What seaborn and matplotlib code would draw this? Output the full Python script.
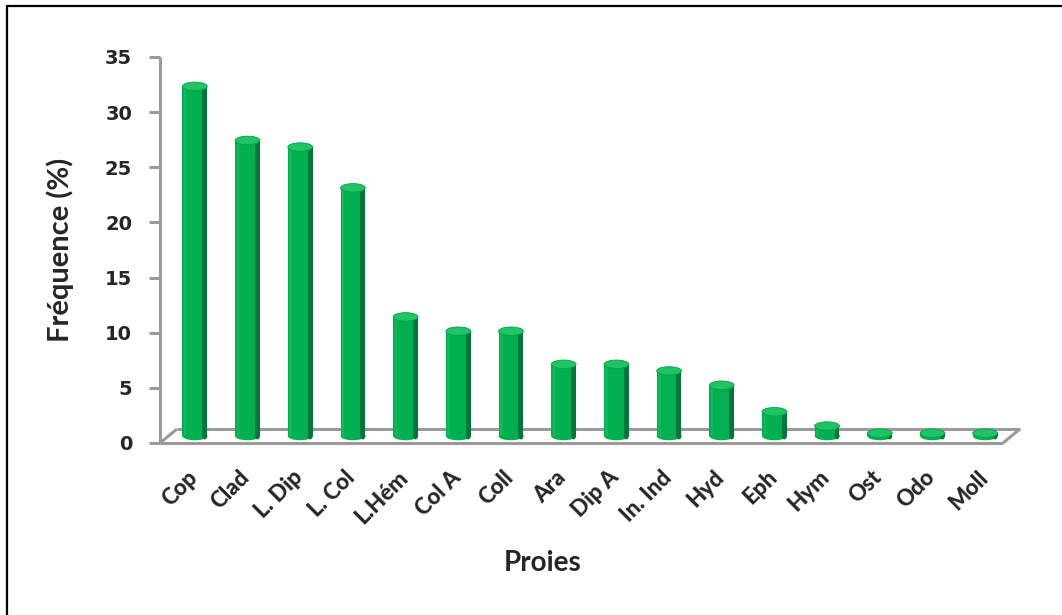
import numpy as np
import pandas as pd
import matplotlib
matplotlib.use("Agg")
import matplotlib.pyplot as plt
import matplotlib.transforms as mtransforms
from matplotlib.patches import Ellipse, Rectangle
from matplotlib.lines import Line2D
import seaborn as sns

# Prey categories and their frequency of occurrence (%)
categories = ["Cop", "Clad", "L. Dip", "L. Col", "L.Hém", "Col A", "Coll", "Ara",
              "Dip A", "In. Ind", "Hyd", "Eph", "Hym", "Ost", "Odo", "Moll"]
frequencies = [31.7, 26.8, 26.2, 22.5, 10.8, 9.5, 9.5, 6.5,
               6.5, 5.9, 4.6, 2.2, 0.9, 0.25, 0.25, 0.25]
y_ticks = [0, 5, 10, 15, 20, 25, 30, 35]

GREEN = "#00B050"
GREEN_DARK = "#00773A"
GREEN_LIGHT = "#1FC463"
AXIS_GREY = "#9A9A9A"

sns.set_theme(style="white")
plt.rcParams["font.family"] = ["DejaVu Sans"]

W, H, DPI = 1062, 615, 100
fig = plt.figure(figsize=(W / DPI, H / DPI), dpi=DPI)
fig.patch.set_facecolor("white")

# plot area (front plane of the 3-D box)
x0, x1, y_bot, y_top = 160, 1003, 443, 57
ax = fig.add_axes([x0 / W, 1 - y_bot / H, (x1 - x0) / W, (y_bot - y_top) / H])

df = pd.DataFrame({"Proies": categories, "Fréquence": frequencies})
sns.barplot(data=df, x="Proies", y="Fréquence", color=GREEN, width=0.47,
            saturation=1, edgecolor="none", ax=ax)

ax.set_xlim(-0.5, len(categories) - 0.5)
ax.set_ylim(0, 35)
for s in ax.spines.values():
    s.set_visible(False)

# depth of the floor in inches (right / up)
depth_dx, depth_dy = 17 / DPI, 14 / DPI
back = ax.transData + mtransforms.ScaledTranslation(depth_dx, depth_dy, fig.dpi_scale_trans)
mid = ax.transData + mtransforms.ScaledTranslation(depth_dx / 2, depth_dy / 2, fig.dpi_scale_trans)

# floor outline
xa, xb = -0.5, len(categories) - 0.5
floor_kw = dict(color=AXIS_GREY, lw=2.2, clip_on=False, solid_capstyle="butt", zorder=1)
ax.add_line(Line2D([xa, xb], [0, 0], transform=ax.transData, **floor_kw))
ax.add_line(Line2D([xa, xb], [0, 0], transform=back, **floor_kw))
inv = ax.transData.inverted()
for xe in (xa, xb):
    (fx, fy) = inv.transform(ax.transData.transform((xe, 0)))
    (bx_, by_) = inv.transform(back.transform((xe, 0)))
    ax.add_line(Line2D([fx, bx_], [fy, by_], transform=ax.transData, **floor_kw))

# vertical value axis with outward ticks
ax.add_line(Line2D([xa, xa], [0, 35], transform=ax.transData, **floor_kw))
ax.set_yticks(y_ticks)
ax.set_yticklabels([str(t) for t in y_ticks], fontsize=14, fontweight="bold",
                   family="DejaVu Sans")
ax.tick_params(axis="y", which="major", left=True, length=8, width=2.2,
               color=AXIS_GREY, pad=12)

# cylinder shading, rounded caps; bars sit at mid-depth of the floor
px_per_unit = (y_bot - y_top) / 35
cap_h = 8.5 / px_per_unit
for patch, val in zip(ax.patches, frequencies):
    patch.set_transform(mid)
    patch.set_zorder(3)
    bx, bw = patch.get_x(), patch.get_width()
    ax.add_patch(Rectangle((bx + bw * 0.80, 0), bw * 0.20, val, facecolor=GREEN_DARK,
                           edgecolor="none", transform=mid, zorder=3.1))
    ax.add_patch(Rectangle((bx + bw * 0.06, 0), bw * 0.10, val, facecolor=GREEN_LIGHT,
                           edgecolor="none", transform=mid, zorder=3.1, alpha=0.5))
    # bottom rounding
    ax.add_patch(Ellipse((bx + bw / 2, 0), bw, cap_h, facecolor=GREEN,
                         edgecolor="none", transform=mid, zorder=2.9))
    ax.add_patch(Ellipse((bx + bw * 0.9, 0), bw * 0.2, cap_h * 0.8, facecolor=GREEN_DARK,
                         edgecolor="none", transform=mid, zorder=3.0))
    # top cap
    ax.add_patch(Ellipse((bx + bw / 2, val), bw, cap_h, facecolor=GREEN_LIGHT,
                         edgecolor="#00A04A", lw=0.6, transform=mid, zorder=3.3))

# category labels
ax.set_xticks(range(len(categories)))
ax.set_xticklabels(categories, rotation=45, ha="right", va="top",
                   rotation_mode="anchor", fontsize=16, fontweight="black", family="Lato")
ax.tick_params(axis="x", length=0, pad=17)

ax.set_xlabel("Proies", fontsize=20, fontweight="bold", family="Lato", labelpad=16,
              x=(543 - x0) / (x1 - x0), ha="center")
ax.set_ylabel("Fréquence (%)", fontsize=21, fontweight="bold", family="Lato", labelpad=22)

# outer chart frame (top and left edges)
fig.add_artist(Line2D([7 / W, 1], [1 - 6 / H, 1 - 6 / H], color="black", lw=1.6,
                      transform=fig.transFigure))
fig.add_artist(Line2D([7 / W, 7 / W], [0, 1 - 6 / H], color="black", lw=1.6,
                      transform=fig.transFigure))

fig.savefig("out.png", dpi=DPI, facecolor="white")
